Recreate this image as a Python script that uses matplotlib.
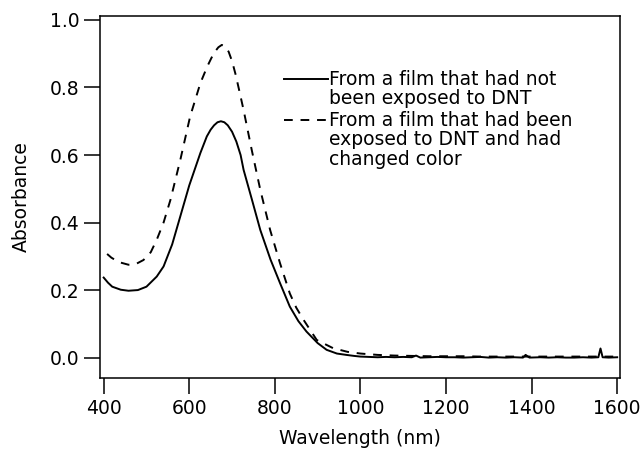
import numpy as np
import matplotlib.pyplot as plt

plt.rcParams['font.family'] = ['DejaVu Sans']

# Не экспонированная плёнка (сплошная)
wl_a = [400, 410, 420, 440, 458, 480, 500, 524, 540, 560, 579, 600, 626, 641, 650, 658,
        666, 674, 682, 690, 700, 710, 720, 727, 746, 766, 790, 812, 835, 855, 874, 900,
        921, 945, 967, 985, 1000, 1020, 1040, 1060, 1080, 1100, 1120, 1130, 1140, 1160,
        1180, 1200, 1220, 1240, 1260, 1280, 1300, 1320, 1340, 1360, 1380, 1386, 1395,
        1420, 1440, 1460, 1480, 1500, 1520, 1540, 1556, 1561, 1566, 1580, 1600]
abs_a = [0.237, 0.222, 0.210, 0.201, 0.198, 0.200, 0.210, 0.240, 0.270, 0.335, 0.418, 0.510,
         0.606, 0.655, 0.675, 0.688, 0.697, 0.700, 0.697, 0.688, 0.669, 0.640, 0.600, 0.556,
         0.470, 0.378, 0.290, 0.221, 0.151, 0.108, 0.077, 0.043, 0.023, 0.012, 0.008,
         0.005, 0.003, 0.002, 0.001, 0.002, 0.001, 0.002, 0.001, 0.006, 0.000, 0.001,
         0.002, 0.001, 0.001, 0.000, 0.001, 0.002, 0.000, 0.001, 0.000, 0.001, 0.000,
         0.008, 0.000, 0.001, 0.000, 0.001, 0.000, 0.000, 0.001, 0.000, 0.001, 0.027,
         0.001, 0.000, 0.001]

# Экспонированная плёнка, изменившая цвет (штрих)
wl_b = [408, 418, 435, 458, 475, 493, 510, 524, 540, 556, 579, 602, 626, 642, 652, 660,
        668, 676, 684, 692, 700, 708, 717, 727, 746, 766, 789, 812, 835, 850, 867, 898,
        936, 970, 1000, 1040, 1080, 1120, 1160, 1200, 1240, 1280, 1320, 1360, 1400,
        1440, 1480, 1520, 1560, 1600]
abs_b = [0.307, 0.296, 0.283, 0.275, 0.277, 0.289, 0.312, 0.349, 0.400, 0.467, 0.585, 0.714,
         0.813, 0.862, 0.888, 0.906, 0.919, 0.926, 0.922, 0.906, 0.878, 0.840, 0.790,
         0.733, 0.615, 0.497, 0.378, 0.280, 0.190, 0.148, 0.112, 0.052, 0.028, 0.017,
         0.012, 0.008, 0.006, 0.005, 0.004, 0.004, 0.004, 0.003, 0.003, 0.003, 0.003,
         0.003, 0.003, 0.003, 0.003, 0.003]

label_a = 'From a film that had not\nbeen exposed to DNT'
label_b = 'From a film that had been\nexposed to DNT and had\nchanged color'

fig = plt.figure(figsize=(6.44, 4.58), dpi=100)
ax = fig.add_axes([0.155, 0.175, 0.808, 0.791])

ax.plot(wl_a, abs_a, color='black', lw=1.4, label=label_a)
ax.plot(wl_b, abs_b, color='black', lw=1.4, dashes=(4.5, 4), label=label_b)

ax.set_xlim(391, 1607)
ax.set_ylim(-0.06, 1.013)
ax.set_xticks(np.arange(400, 1601, 200))
ax.set_yticks(np.arange(0, 1.01, 0.2))
ax.set_yticklabels(['0.0', '0.2', '0.4', '0.6', '0.8', '1.0'])
ax.tick_params(direction='out', length=11.5, width=1.1, labelsize=13.5)
ax.tick_params(axis='x', pad=4)
ax.tick_params(axis='y', pad=3)
for s in ax.spines.values():
    s.set_linewidth(1.1)

ax.set_xlabel('Wavelength (nm)', fontsize=13.5, labelpad=8)
ax.set_ylabel('Absorbance', fontsize=13.5, labelpad=14)

leg = ax.legend(loc='upper left', bbox_to_anchor=(0.354, 0.85), frameon=False,
                fontsize=13.5, handlelength=2.35, handleheight=1.55, handletextpad=0.05,
                labelspacing=0.12, borderpad=0, borderaxespad=0)
# ручка легенды на уровне первой строки
for col in leg._legend_handle_box.get_children():
    for row in col.get_children():
        row.align = 'top'
for t in leg.get_texts():
    t.set_linespacing(1.03)

fig.savefig('out.png', dpi=100)
